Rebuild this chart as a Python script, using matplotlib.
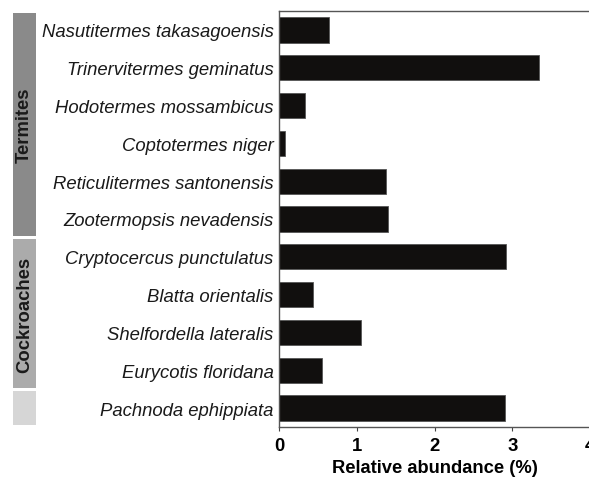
import matplotlib
matplotlib.use("Agg")
import matplotlib.pyplot as plt
import numpy as np

plt.rcParams["font.family"] = ["Liberation Sans", "DejaVu Sans"]

# 数据
species = [
    "Nasutitermes takasagoensis",
    "Trinervitermes geminatus",
    "Hodotermes mossambicus",
    "Coptotermes niger",
    "Reticulitermes santonensis",
    "Zootermopsis nevadensis",
    "Cryptocercus punctulatus",
    "Blatta orientalis",
    "Shelfordella lateralis",
    "Eurycotis floridana",
    "Pachnoda ephippiata",
]
abundance = [0.64, 3.35, 0.33, 0.08, 1.38, 1.40, 2.92, 0.44, 1.06, 0.55, 2.91]

group_names = ["Termites", "Cockroaches", ""]
group_sizes = [6, 4, 1]
group_colors = ["#8a8a8a", "#ababab", "#d6d6d6"]

fig = plt.figure(figsize=(5.89, 4.81), dpi=100)
ax = fig.add_axes([279 / 589, 1 - 428 / 481, 311 / 589, 416 / 481])

y = np.arange(len(species))
ax.barh(y, abundance, height=0.67, color="#110f0e", edgecolor="#555555", linewidth=0.6)
ax.set_ylim(len(species) - 0.5, -0.5)
ax.set_xlim(0, 4)
ax.set_yticks(y)
ax.set_yticklabels(species, fontstyle="italic", fontsize=13.3, color="#1a1a1a")
ax.tick_params(axis="y", length=0, pad=4)
ax.set_xticks([0, 1, 2, 3, 4])
ax.set_xticklabels(["0", "1", "2", "3", "4"], fontweight="bold", fontsize=13.3)
ax.tick_params(axis="x", length=3, width=0.8, pad=4, color="#444444")
ax.set_xlabel("Relative abundance (%)", fontweight="bold", fontsize=13.2, labelpad=4)
for s in ["left", "bottom", "top", "right"]:
    ax.spines[s].set_color("#555555")
    ax.spines[s].set_linewidth(1.0)

# 左侧分组色块
gax = fig.add_axes([13 / 589, 1 - 428 / 481, 23 / 589, 416 / 481], sharey=ax)
gax.set_xlim(0, 1)
gax.axis("off")
start = -0.5
for name, size, col in zip(group_names, group_sizes, group_colors):
    gax.barh(start + size / 2, 1, height=size - 0.08, left=0, color=col)
    if name:
        gax.text(0.5, start + size / 2, name, rotation=90, ha="center", va="center",
                 fontweight="bold", fontsize=13.3, color="#1a1a1a")
    start += size

fig.savefig("out.png", dpi=100)
